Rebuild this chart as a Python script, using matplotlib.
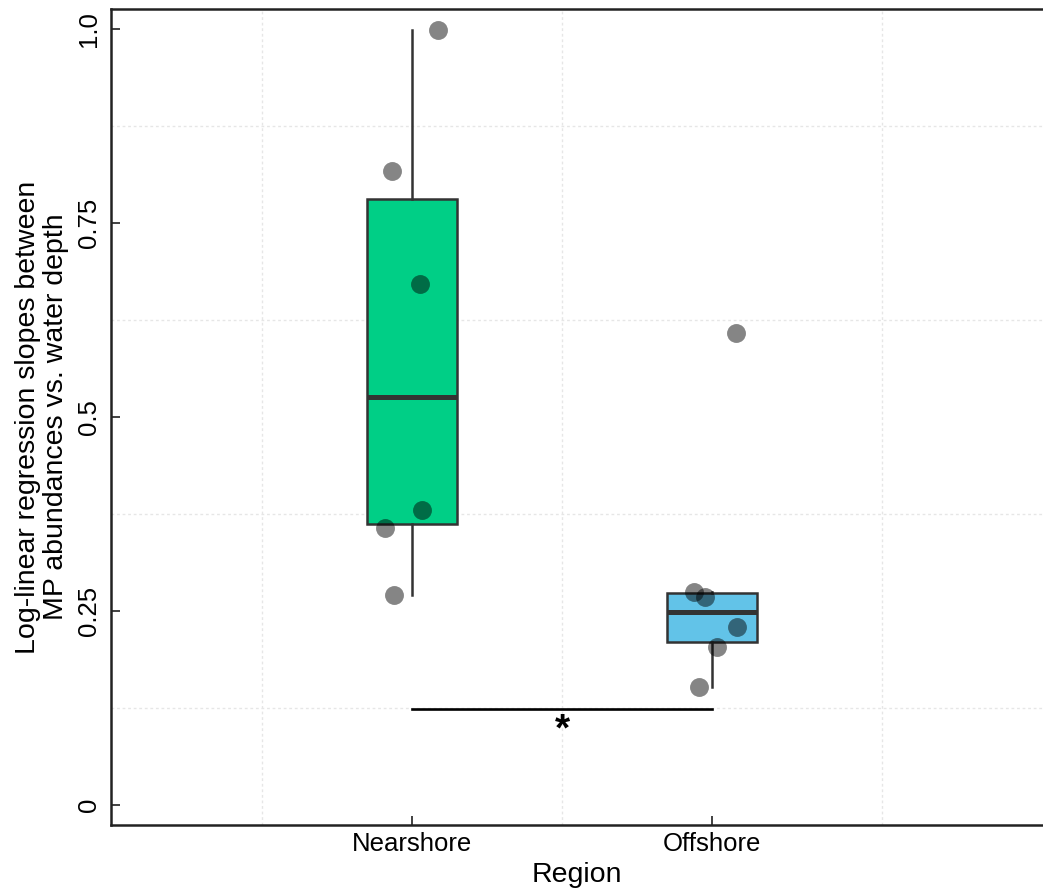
import matplotlib
matplotlib.use("Agg")
import matplotlib.pyplot as plt
import numpy as np

plt.rcParams['font.family'] = ['Liberation Sans', 'DejaVu Sans']

# ---- data ----
regions = ["Nearshore", "Offshore"]
nearshore = [0.271, 0.357, 0.380, 0.671, 0.817, 0.999]
offshore = [0.1525, 0.2032, 0.2298, 0.2684, 0.2745, 0.608]
nearshore_jitter = [-0.060, -0.090, 0.033, 0.027, -0.067, 0.087]
offshore_jitter = [-0.043, 0.017, 0.083, -0.023, -0.060, 0.080]
box_colors = ["#00CF86", "#62C3E8"]
yticks = [0, 0.25, 0.5, 0.75, 1.0]
ytick_labels = ["0", "0.25", "0.5", "0.75", "1.0"]
sig_label = "*"
sig_y = 0.1237

W, H = 1043, 894
fig = plt.figure(figsize=(W / 100, H / 100), dpi=100)
ax = fig.add_axes([111 / W, 1 - 825 / H, 1 - 111 / W, (825 - 9) / H])

positions = [1, 2]
bp = ax.boxplot([nearshore, offshore], positions=positions, widths=0.3,
                patch_artist=True, showfliers=False, whis=1.5,
                boxprops=dict(edgecolor="#333333", linewidth=1.8),
                medianprops=dict(color="#333333", linewidth=3.6),
                whiskerprops=dict(color="#333333", linewidth=1.8),
                capprops=dict(linewidth=0), zorder=2)
for patch, c in zip(bp['boxes'], box_colors):
    patch.set_facecolor(c)

for pos, vals, jit in zip(positions, [nearshore, offshore], [nearshore_jitter, offshore_jitter]):
    ax.scatter(np.array(jit) + pos, vals, s=185, color="black", alpha=0.48,
               linewidths=0, zorder=3)

# significance bar
ax.plot([1, 2], [sig_y, sig_y], color="black", linewidth=1.9, zorder=4)
ax.text(1.5, sig_y - 0.004, sig_label, ha="center", va="top", fontsize=28,
        fontweight="bold", zorder=4)

ax.set_xlim(-0.003, 3.103)
ax.set_ylim(-0.0258, 1.0258)
ax.set_xticks(positions)
ax.set_xticklabels(regions, fontsize=18.5)
ax.set_yticks(yticks)
ax.set_yticklabels(ytick_labels, fontsize=18.5, rotation=90, va="center")
ax.set_xticks([0.5, 1.5, 2.567], minor=True)
ax.set_yticks([0.125, 0.375, 0.625, 0.875], minor=True)
ax.tick_params(axis="both", which="major", direction="in", length=6.5, width=1.3,
               color="#333333")
ax.tick_params(axis="x", which="major", pad=5)
ax.tick_params(axis="y", which="major", pad=7)
ax.tick_params(which="minor", length=0)
ax.grid(which="minor", color="#e6e6e6", linestyle=(0, (2, 2)), linewidth=1.0, zorder=0)
ax.grid(which="major", visible=False)
ax.set_axisbelow(True)

for s in ["left", "bottom", "top"]:
    ax.spines[s].set_linewidth(1.8)
    ax.spines[s].set_color("#222222")
ax.spines["right"].set_visible(False)

ax.set_xlabel("Region", fontsize=20.5, labelpad=4)
ax.set_ylabel("Log-linear regression slopes between\nMP abundances vs. water depth",
              fontsize=20.5, labelpad=6, linespacing=1.1)

fig.savefig("out.png", dpi=100)
